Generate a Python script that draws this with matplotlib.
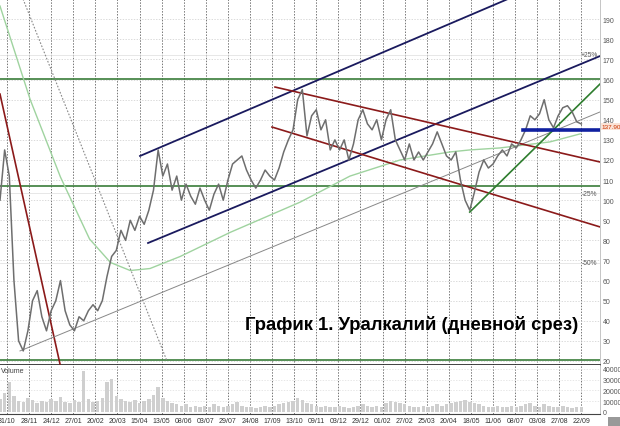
import numpy as np
import matplotlib
matplotlib.use("Agg")
import matplotlib.pyplot as plt

plt.rcParams["font.family"] = ["Liberation Sans", "DejaVu Sans"]

# ---------------- data ----------------
date_labels = ["31/10", "28/11", "24/12", "27/01", "20/02", "20/03", "15/04", "13/05",
               "08/06", "03/07", "29/07", "24/08", "17/09", "13/10", "09/11", "03/12",
               "29/12", "01/02", "27/02", "25/03", "20/04", "18/05", "11/06", "08/07",
               "03/08", "27/08", "22/09"]
tick_step_days = 19
first_tick_day = 6
sample_step_days = 4

price = [100, 125, 112, 60, 30, 25, 35, 50, 55, 42, 35, 45, 50, 60, 45, 38, 35, 42, 40, 45,
         48, 45, 50, 62, 72, 75, 85, 80, 90, 85, 92, 88, 95, 105, 125, 112, 118, 105, 112, 100,
         108, 102, 98, 106, 100, 95, 103, 108, 100, 110, 118, 120, 122, 115, 110, 106, 110, 115, 112, 110,
         116, 124, 130, 135, 150, 155, 132, 142, 145, 135, 140, 125, 130, 125, 130, 120, 128, 140, 145, 138,
         135, 140, 130, 140, 145, 130, 125, 120, 128, 120, 124, 120, 124, 128, 134, 128, 122, 120, 124, 110,
         100, 95, 104, 114, 120, 116, 118, 122, 125, 122, 128, 126, 130, 135, 142, 140, 143, 150, 140, 136,
         142, 146, 147, 144, 139, 137.9]

volume_m = [1.2, 1.8, 2.8, 1.5, 1.0, 0.9, 1.3, 1.1, 0.8, 1.0, 0.9, 1.2, 1.0, 1.4, 0.9, 0.8, 1.1, 0.9, 3.8, 1.2,
            0.9, 1.0, 1.3, 2.8, 3.1, 1.5, 1.2, 1.0, 0.9, 1.1, 0.8, 1.0, 1.2, 1.6, 2.3, 1.3, 1.0, 0.8, 0.7, 0.6,
            0.7, 0.5, 0.6, 0.5, 0.6, 0.5, 0.7, 0.6, 0.5, 0.6, 0.7, 0.9, 0.6, 0.5, 0.5, 0.4, 0.5, 0.6, 0.5, 0.6,
            0.7, 0.8, 0.9, 1.0, 1.3, 1.1, 0.8, 0.7, 0.6, 0.5, 0.6, 0.5, 0.5, 0.6, 0.5, 0.4, 0.5, 0.6, 0.7, 0.6,
            0.5, 0.6, 0.5, 0.8, 1.0, 0.9, 0.8, 0.7, 0.6, 0.5, 0.5, 0.6, 0.5, 0.6, 0.7, 0.6, 0.7, 0.8, 0.9, 1.0,
            1.1, 0.9, 0.8, 0.7, 0.6, 0.5, 0.5, 0.6, 0.5, 0.5, 0.6, 0.5, 0.6, 0.7, 0.8, 0.6, 0.5, 0.7, 0.6, 0.5,
            0.5, 0.6, 0.5, 0.4, 0.5, 0.5]

ma_days = [0, 26, 52, 77, 95, 112, 129, 155, 198, 258, 301, 344, 387, 404, 430, 473, 499]
ma_vals = [196.6, 150, 111.5, 80.7, 69, 65, 66, 72, 84, 99, 112, 120, 124, 125, 126, 129, 133]

# trend lines: (day0, value0, day1, value1)
line_red_steep = (0, 152.8, 51.6, 18.5)
line_grey_dotted = (19.8, 200.1, 143.6, 20.0)
line_navy_upper = (120.4, 122.0, 436.8, 200.1)
line_navy_lower = (127.3, 78.7, 516, 171.7)
line_red_upper = (236.5, 156.3, 516, 119.0)
line_red_lower = (233.9, 136.4, 516, 86.7)
line_green_steep = (404, 94.1, 516, 157.8)
line_regression = (17.2, 25.0, 516, 143.9)
line_blue_level = (449.7, 134.9, 516, 134.9)
green_levels = [160.3, 107.0, 20.5]
last_price = 137.90
pct_levels = [(1.25, "+25%"), (0.75, "-25%"), (0.5, "-50%")]
price_ticks = list(range(20, 200, 10))
volume_ticks = [0, 1, 2, 3, 4]
title = "График 1. Уралкалий (дневной срез)"

# ---------------- figure ----------------
W, H = 620, 427
fig = plt.figure(figsize=(W / 100, H / 100), dpi=100)
fig.patch.set_facecolor("white")
x_max = 516

axp = fig.add_axes([0, 1 - 366 / H, 600 / W, 366 / H])
axv = fig.add_axes([0, 1 - 415 / H, 600 / W, 49 / H])

days = np.arange(len(price)) * sample_step_days
tick_days = first_tick_day + tick_step_days * np.arange(len(date_labels))

for ax in (axp, axv):
    ax.set_xlim(0, x_max)
    ax.set_facecolor("white")
    for t in tick_days:
        ax.axvline(t, color="#777777", lw=0.7, ls=(0, (1.5, 1.5)), zorder=1)
    ax.yaxis.tick_right()
    ax.tick_params(axis="y", length=0, pad=2, labelsize=5.0, labelcolor="#555555")
    for s in ("left", "top"):
        ax.spines[s].set_visible(False)
    ax.spines["right"].set_color("#bbbbbb")
    ax.spines["right"].set_linewidth(0.6)

# price panel
axp.set_ylim(18.0, 200.1)
axp.set_yticks(price_ticks)
axp.set_yticklabels([str(v) for v in price_ticks])
for v in price_ticks:
    axp.axhline(v, color="#cccccc", lw=0.5, ls=(0, (2, 2)), zorder=1)
axp.set_xticks([])
axp.spines["bottom"].set_color("#222222")
axp.spines["bottom"].set_linewidth(1.2)

for lv in green_levels:
    axp.axhline(lv, color="#3a7d3a", lw=1.2, zorder=3)
for frac, lab in pct_levels:
    axp.axhline(last_price * frac, color="#dddddd", lw=0.5, zorder=1)
    axp.text(x_max - 2, last_price * frac, lab, fontsize=4.8, color="#555555",
             ha="right", va="center", zorder=6)

axp.plot(ma_days, ma_vals, color="#9fd39f", lw=1.0, zorder=3)

def seg(line, **kw):
    d0, v0, d1, v1 = line
    axp.plot([d0, d1], [v0, v1], **kw)

seg(line_red_steep, color="#8b1a1a", lw=1.2, zorder=4)
seg(line_grey_dotted, color="#888888", lw=0.8, ls=(0, (1.5, 1.5)), zorder=4)
seg(line_regression, color="#888888", lw=0.7, zorder=4)
seg(line_navy_upper, color="#1a1a5e", lw=1.3, zorder=4)
seg(line_navy_lower, color="#1a1a5e", lw=1.3, zorder=4)
seg(line_red_upper, color="#8b1a1a", lw=1.2, zorder=4)
seg(line_red_lower, color="#8b1a1a", lw=1.2, zorder=4)
seg(line_green_steep, color="#2e7d2e", lw=1.2, zorder=4)

axp.plot(days, price, color="#6e6e6e", lw=1.1, zorder=5)
seg(line_blue_level, color="#1020a0", lw=2.6, zorder=6)

axp.text(x_max + 1.5, last_price - 1.2, "%.2f" % last_price, fontsize=4.6, color="#cc3300",
         ha="left", va="center", clip_on=False, zorder=7,
         bbox=dict(boxstyle="square,pad=0.1", fc="#fbe3d6", ec="none"))

fig.text(245 / W, 1 - 325 / H, title, fontsize=13.3, fontweight="bold",
         ha="left", va="center", color="black")

# volume panel
axv.set_ylim(-0.186, 4.37)
axv.set_yticks(volume_ticks)
axv.set_yticklabels(["0" if v == 0 else str(v * 1000000) for v in volume_ticks])
for v in volume_ticks[1:]:
    axv.axhline(v, color="#dddddd", lw=0.5, ls=(0, (2, 2)), zorder=1)
axv.bar(days, volume_m, width=3.0, color="#cfcfcf", zorder=2)
axv.set_xticks(tick_days)
axv.set_xticklabels(date_labels)
axv.tick_params(axis="x", length=0, pad=2, labelsize=5.0, labelcolor="#333333")
axv.spines["bottom"].set_color("#444444")
axv.spines["bottom"].set_linewidth(0.8)
axv.text(1, 4.2, "Volume", fontsize=5, color="#444444", ha="left", va="top")

fig.patches.append(plt.Rectangle((608 / W, 0), 12 / W, 9 / H, transform=fig.transFigure,
                                 fc="#999999", ec="none"))

fig.savefig("out.png", dpi=100)
